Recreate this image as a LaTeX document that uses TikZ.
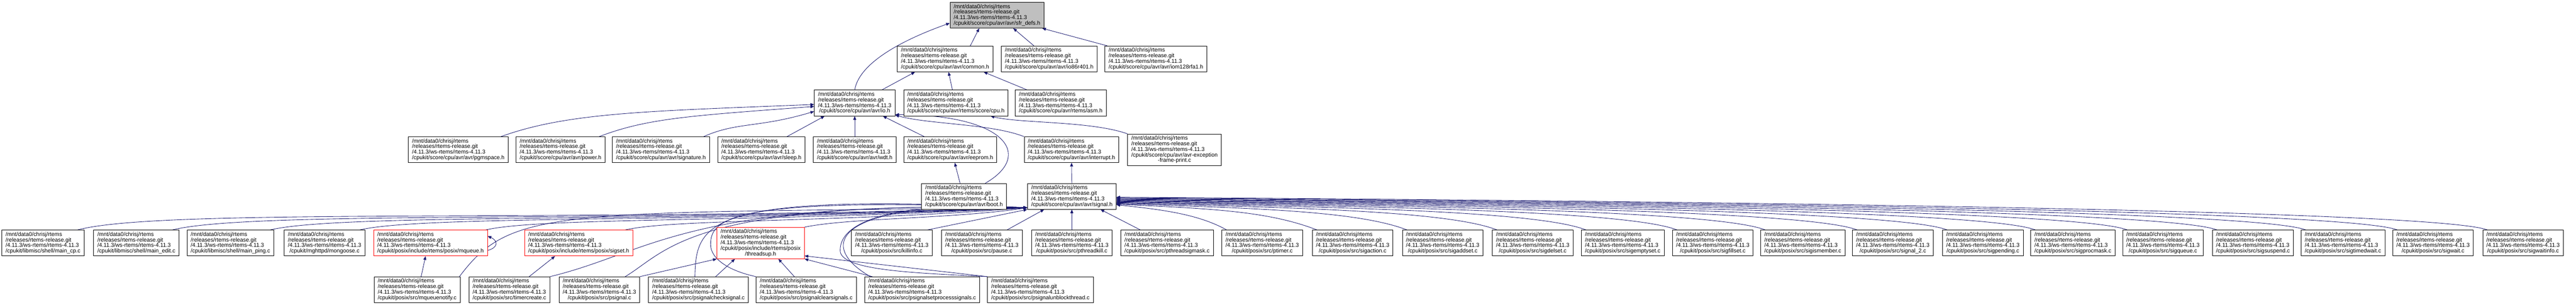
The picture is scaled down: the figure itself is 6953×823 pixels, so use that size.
\documentclass[tikz,border=0pt]{standalone}
\usepackage{fontspec}
\setmainfont{Liberation Sans}
\usetikzlibrary{arrows.meta,positioning}
\pgfdeclarelayer{background}
\pgfsetlayers{background,main}

\definecolor{edgeblue}{HTML}{191970}
\definecolor{rootgray}{HTML}{BFBFBF}

% four line file label, last line centred
\newcommand{\fpath}[1]{\vbox{\baselineskip=11.25pt\lineskiplimit=-\maxdimen
  \halign{##\hfil\cr/mnt/data0/chrisj/rtems\cr/releases/rtems-release.git\cr
  /4.11.3/ws-rtems/rtems-4.11.3\cr\omit\hfil#1\hfil\cr}}}
% five line file label
\newcommand{\fpathii}[2]{\vbox{\baselineskip=11.25pt\lineskiplimit=-\maxdimen
  \halign{##\hfil\cr/mnt/data0/chrisj/rtems\cr/releases/rtems-release.git\cr
  /4.11.3/ws-rtems/rtems-4.11.3\cr#1\cr\omit\hfil#2\hfil\cr}}}

\tikzset{
        % plain file box
        file/.style={draw=black, line width=0.8pt, fill=white, text=black,
                inner xsep=7.5pt, inner ysep=4pt,
                font=\fontsize{11.3pt}{11.25pt}\selectfont},
        % the file the graph is about
        rootfile/.style={file, fill=rootgray},
        % truncated files
        cutfile/.style={file, draw=red},
        % include edge
        dep/.style={draw=edgeblue, line width=0.9pt,
                -{Triangle[length=7.5pt,width=6pt]}}
}

\begin{document}
\begin{tikzpicture}[x=0.75pt,y=-0.75pt]
    \useasboundingbox (0,0) rectangle (6953,823);

    % rank 0 and 1
    \node[rootfile] (sfr) at (2691,41) {\fpath{/cpukit/score/cpu/avr/avr/sfr\_defs.h}};
    \node[file] (cmn) at (2551,159) {\fpath{/cpukit/score/cpu/avr/avr/common.h}};
    \node[file] (i86) at (2832,159) {\fpath{/cpukit/score/cpu/avr/avr/io86r401.h}};
    \node[file] (i128) at (3120,159) {\fpath{/cpukit/score/cpu/avr/avr/iom128rfa1.h}};
    % rank 2
    \node[file] (io) at (2307,278) {\fpath{/cpukit/score/cpu/avr/avr/io.h}};
    \node[file] (cpu) at (2580,278) {\fpath{/cpukit/score/cpu/avr/rtems/score/cpu.h}};
    \node[file] (asm) at (2863,278) {\fpath{/cpukit/score/cpu/avr/rtems/asm.h}};
    % rank 3
    \node[file] (pgm) at (1237,404) {\fpath{/cpukit/score/cpu/avr/avr/pgmspace.h}};
    \node[file] (pwr) at (1513,404) {\fpath{/cpukit/score/cpu/avr/avr/power.h}};
    \node[file] (sgn) at (1784,404) {\fpath{/cpukit/score/cpu/avr/avr/signature.h}};
    \node[file] (slp) at (2055,404) {\fpath{/cpukit/score/cpu/avr/avr/sleep.h}};
    \node[file] (wdt) at (2307,404) {\fpath{/cpukit/score/cpu/avr/avr/wdt.h}};
    \node[file] (eep) at (2565,404) {\fpath{/cpukit/score/cpu/avr/avr/eeprom.h}};
    \node[file] (irq) at (2892,404) {\fpath{/cpukit/score/cpu/avr/avr/interrupt.h}};
    \node[file] (exc) at (3170,404) {\fpathii{/cpukit/score/cpu/avr/avr-exception}{-frame-print.c}};
    % rank 4
    \node[file] (boot) at (2602,530) {\fpath{/cpukit/score/cpu/avr/avr/boot.h}};
    \node[file] (sig) at (2893,530) {\fpath{/cpukit/score/cpu/avr/avr/signal.h}};
    % rank 5
    \node[file] (mcp) at (116,656) {\fpath{/cpukit/libmisc/shell/main\_cp.c}};
    \node[file] (med) at (368,656) {\fpath{/cpukit/libmisc/shell/main\_edit.c}};
    \node[file] (mpg) at (622,656) {\fpath{/cpukit/libmisc/shell/main\_ping.c}};
    \node[file] (mgs) at (876,656) {\fpath{/cpukit/mghttpd/mongoose.c}};
    \node[cutfile] (mq) at (1162,656) {\fpath{/cpukit/posix/include/rtems/posix/mqueue.h}};
    \node[cutfile] (sst) at (1562,656) {\fpath{/cpukit/posix/include/rtems/posix/sigset.h}};
    \node[cutfile] (tsp) at (2053,656) {\fpathii{/cpukit/posix/include/rtems/posix}{/threadsup.h}};
    \node[file] (kil) at (2407,656) {\fpath{/cpukit/posix/src/killinfo.c}};
    \node[file] (pau) at (2650,656) {\fpath{/cpukit/posix/src/pause.c}};
    \node[file] (ptk) at (2893,656) {\fpath{/cpukit/posix/src/pthreadkill.c}};
    \node[file] (psm) at (3150,656) {\fpath{/cpukit/posix/src/pthreadsigmask.c}};
    \node[file] (pti) at (3407,656) {\fpath{/cpukit/posix/src/ptimer.c}};
    \foreach \f [count=\i from 0] in {sigaction.c, sigaddset.c, sigdelset.c,
            sigemptyset.c, sigfillset.c, sigismember.c, signal\_2.c, sigpending.c,
            sigprocmask.c, sigqueue.c, sigsuspend.c, sigtimedwait.c, sigwait.c,
            sigwaitinfo.c} {
        \node[file] (r\i) at ({3651+243*\i},656) {\fpath{/cpukit/posix/src/\f}};
    }
    % rank 6
    \node[file] (mqn) at (1126,782) {\fpath{/cpukit/posix/src/mqueuenotify.c}};
    \node[file] (tmc) at (1375,782) {\fpath{/cpukit/posix/src/timercreate.c}};
    \node[file] (psg) at (1618,782) {\fpath{/cpukit/posix/src/psignal.c}};
    \node[file] (pcs) at (1885,782) {\fpath{/cpukit/posix/src/psignalchecksignal.c}};
    \node[file] (pcl) at (2176,782) {\fpath{/cpukit/posix/src/psignalclearsignals.c}};
    \node[file] (psp) at (2489,782) {\fpath{/cpukit/posix/src/psignalsetprocesssignals.c}};
    \node[file] (pub) at (2808,782) {\fpath{/cpukit/posix/src/psignalunblockthread.c}};

    \begin{pgfonlayer}{background}
    % into sfr_defs.h and common.h
    \draw[dep] (io.north) .. controls +(15,-90) and +(-70,25) .. ([yshift=-16pt]sfr.west);
    \draw[dep] ([xshift=51pt]cmn.north) -- ([xshift=-36pt]sfr.south);
    \draw[dep] ([xshift=-31pt]i86.north) -- ([xshift=33pt]sfr.south);
    \draw[dep] ([xshift=5pt]i128.north west) -- ([xshift=-4pt]sfr.south east);
    \draw[dep] ([xshift=55pt]io.north) -- ([xshift=-61pt]cmn.south);
    \draw[dep] ([xshift=-7pt]cpu.north) -- ([xshift=7pt]cmn.south);
    \draw[dep] ([xshift=-68pt]asm.north) -- ([xshift=-19pt]cmn.south east);
    % into io.h
    \draw[dep] ([xshift=-15pt]pgm.north east) .. controls +(180,-65) and +(-450,18) .. ([yshift=-3pt]io.west);
    \draw[dep] ([xshift=-12pt]pwr.north east) .. controls +(130,-50) and +(-330,25) .. ([yshift=-7pt]io.west);
    \draw[dep] ([xshift=-12pt]sgn.north east) .. controls +(90,-40) and +(-150,45) .. ([yshift=-17pt]io.west);
    \draw[dep] ([xshift=52pt]slp.north) -- ([xshift=-61pt]io.south);
    \draw[dep] (wdt) -- (io);
    \draw[dep] ([xshift=-53pt]eep.north) -- ([xshift=57pt]io.south);
    \draw[dep] (irq.north west) .. controls +(-90,-35) and +(90,25) .. ([yshift=2pt]io.south east);
    \draw[dep] ([xshift=43pt]boot.north) .. controls +(131,-75) and +(300,0) .. ([yshift=3pt]io.south east);
    \draw[dep] (exc.north west) .. controls +(-100,-35) and +(80,20) .. ([xshift=-36pt]cpu.south east);
    \draw[dep] ([xshift=-8pt]boot.north) -- ([xshift=9pt]eep.south);
    \draw[dep] (sig) -- (irq);
    % into signal.h from the left
    \draw[dep] ([xshift=-14pt]mcp.north east) .. controls +(230,-60) and +(-1300,40) .. ([yshift=-23pt]sig.west);
    \draw[dep] ([xshift=-14pt]med.north east) .. controls +(210,-52) and +(-1150,40) .. ([yshift=-23pt]sig.west);
    \draw[dep] ([xshift=-8pt]mpg.north east) .. controls +(190,-45) and +(-1000,40) .. ([yshift=-23pt]sig.west);
    \draw[dep] ([xshift=-11pt]mgs.north east) .. controls +(170,-40) and +(-850,40) .. ([yshift=-23pt]sig.west);
    \draw[dep] ([xshift=-4pt]mq.north east) .. controls +(150,-35) and +(-700,40) .. ([yshift=-23pt]sig.west);
    \draw[dep] ([xshift=-16pt]sst.north east) .. controls +(130,-30) and +(-500,40) .. ([yshift=-23pt]sig.west);
    \draw[dep] (tsp.north east) .. controls +(120,-25) and +(-200,30) .. ([yshift=-23pt]sig.west);
    \draw[dep] ([xshift=-10pt]kil.north east) -- (sig.south west);
    \draw[dep] ([xshift=51pt]pau.north) -- ([xshift=-56pt]sig.south);
    \draw[dep] (ptk) -- (sig);
    \draw[dep] ([xshift=-54pt]psm.north) -- ([xshift=58pt]sig.south);
    \draw[dep] ([xshift=10pt]pti.north west) .. controls +(-80,-45) and +(110,12) .. ([yshift=-17pt]sig.east);
    % into signal.h from the right
    \foreach \i in {0,...,13} {
        \draw[dep] ([xshift=10pt]r\i.north west) .. controls +(-130,-50) and +({265+121*\i},12)
            .. ([yshift={(-16+1.1*\i)*1pt}]sig.east);
    }
    % rank 6 edges
    \draw[dep] ([xshift=8pt]mqn.north) -- ([xshift=-10pt]mq.south);
    \draw[dep] ([yshift=-15pt]mq.east) .. controls +(30,-8) and +(28,12) .. ([yshift=14pt]mq.east);
    \draw[dep] ([xshift=-2pt]mqn.north east) .. controls +(140,-187) and +(-1274,15) .. ([yshift=-23pt]sig.west);
    \draw[dep] ([xshift=40pt]tmc.north) -- ([xshift=-48pt]sst.south);
    \draw[dep] (tmc.north east) .. controls +(277,-67) and +(-924,-20) .. ([yshift=-23pt]sig.west);
    \draw[dep] (psg.north east) -- (tsp.south west);
    \draw[dep] ([xshift=-30pt]psg.north east) .. controls +(113,-67) and +(-914,-20) .. ([yshift=-23pt]sig.west);
    \draw[dep] ([xshift=35pt]pcs.north) -- ([xshift=-52pt]tsp.south);
    \draw[dep] ([xshift=-7pt]pcs.north) .. controls +(3,-147) and +(-869,-40) .. ([yshift=-23pt]sig.west);
    \draw[dep] ([xshift=-24pt]pcl.north) -- ([xshift=36pt]tsp.south);
    \draw[dep] (pcl.north west) .. controls +(-70,-15) and +(0,40) .. (1918,660)
        .. controls +(0,-70) and +(-800,-30) .. ([yshift=-23pt]sig.west);
    \draw[dep] ([xshift=16pt]psp.north west) -- (tsp.south east);
    \draw[dep] ([xshift=12pt]psp.north west) .. controls +(-151,-87) and +(-516,-20) .. ([yshift=-23pt]sig.west);
    \draw[dep] (pub.north west) -- ([yshift=-26pt]tsp.east);
    \draw[dep] (pub.north west) .. controls +(-200,-10) and +(10,50) .. (2268,680)
        .. controls +(-6,-70) and +(-400,-20) .. ([yshift=-23pt]sig.west);
    \end{pgfonlayer}
\end{tikzpicture}
\end{document}
